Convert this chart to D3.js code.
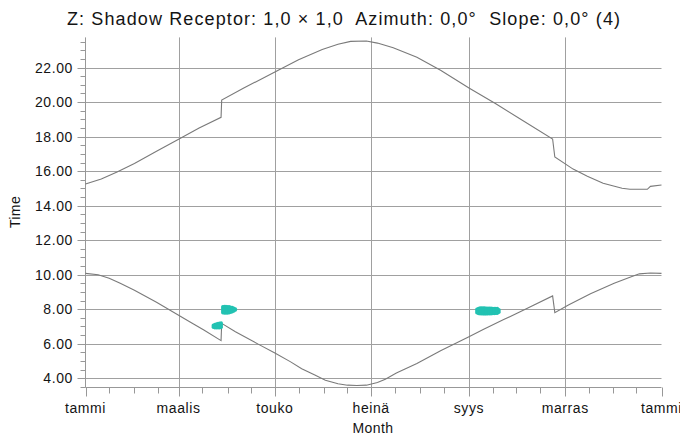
<!DOCTYPE html>
<html>
<head>
<meta charset="utf-8">
<script src="https://cdn.jsdelivr.net/npm/d3@7"></script>
<style>
  html, body { margin: 0; padding: 0; background: #fff; }
  svg { display: block; }
  text { font-family: "Liberation Sans", Arial, sans-serif; fill: #141414; }
</style>
</head>
<body>
<svg id="chart" width="680" height="439"></svg>
<script>
// ---- data ----
const titleText = "Z: Shadow Receptor: 1,0 × 1,0  Azimuth: 0,0°  Slope: 0,0° (4)";
const monthLabels = ["tammi", "maalis", "touko", "heinä", "syys", "marras", "tammi"];
const yTickValues = [4, 6, 8, 10, 12, 14, 16, 18, 20, 22];

// sunset (upper curve): day of year, hour
const upperDays  = [0, 10, 20, 31, 45, 59, 72, 85.9, 86.3, 100, 120, 135, 150, 160, 168, 178, 185, 195, 210, 225, 243, 260, 275, 296, 297.4, 309, 318, 328, 340, 345, 356, 358, 365];
const upperTimes = [15.26, 15.55, 15.95, 16.45, 17.15, 17.85, 18.5, 19.12, 20.12, 20.8, 21.75, 22.45, 23.05, 23.35, 23.52, 23.54, 23.42, 23.15, 22.6, 21.85, 20.82, 19.9, 19.05, 17.86, 16.82, 16.12, 15.7, 15.3, 15.01, 14.95, 14.95, 15.12, 15.2];

// sunrise (lower curve): day of year, hour
const lowerDays  = [0, 8, 15, 22, 31, 45, 59, 66, 75, 85.9, 86.3, 95, 110, 120, 130, 137, 145, 152, 160, 166, 172, 178, 185, 190, 197, 210, 225, 243, 252, 265, 280, 296, 297.4, 306, 320, 335, 345, 351, 358, 365];
const lowerTimes = [10.08, 10.0, 9.8, 9.5, 9.1, 8.4, 7.65, 7.28, 6.8, 6.18, 7.18, 6.7, 5.95, 5.47, 4.95, 4.55, 4.2, 3.88, 3.68, 3.6, 3.58, 3.6, 3.75, 3.95, 4.3, 4.85, 5.6, 6.4, 6.82, 7.4, 8.05, 8.77, 7.8, 8.25, 8.9, 9.5, 9.85, 10.05, 10.1, 10.08];

// shadow flicker periods: day of year, start hour, end hour
const flickerDays   = [81, 82, 83, 84, 85, 86, 87, 88, 89, 90, 91, 92, 93, 94, 95, 248, 249, 250, 251, 252, 253, 254, 255, 256, 257, 258, 259, 260, 261, 262];
const flickerStarts = [6.95, 6.93, 6.93, 6.93, 6.93, 6.95, 7.8, 7.78, 7.78, 7.78, 7.8, 7.82, 7.85, 7.9, 7.95, 7.8, 7.75, 7.74, 7.74, 7.73, 7.73, 7.73, 7.74, 7.74, 7.74, 7.75, 7.75, 7.76, 7.77, 7.82];
const flickerEnds   = [7.08, 7.12, 7.15, 7.17, 7.19, 7.2, 8.15, 8.16, 8.16, 8.15, 8.14, 8.12, 8.1, 8.06, 8.02, 8.0, 8.05, 8.07, 8.07, 8.07, 8.07, 8.06, 8.06, 8.06, 8.06, 8.05, 8.05, 8.04, 8.04, 7.98];

// ---- setup ----
const svg = d3.select("#chart");
const year0 = new Date(2011, 0, 1);
const toDate = d => new Date(year0.getTime() + d * 86400000);

const x = d3.scaleTime()
  .domain([new Date(2011, 0, 1), new Date(2012, 0, 1)])
  .range([85.5, 661.5]);
const y = d3.scaleLinear().domain([3.5, 23.75]).range([386.9, 37.4]);

const gridColor = "#a0a0a0";
const axisColor = "#989898";
const crisp = v => Math.round(v) + 0.5;

const majorDates = d3.range(0, 7).map(i => new Date(2011, i * 2, 1));
const minorDates = [];
for (let m = 0; m < 12; m++) {
  if (m % 2 === 1) minorDates.push(new Date(2011, m, 1));
  minorDates.push(new Date(2011, m, 16));
}
const yMinor = d3.range(3.5, 23.75, 0.5).filter(v => !yTickValues.includes(v));

const plotLeft = crisp(x.range()[0]) - 1;
const plotRight = x.range()[1];
const plotBottom = crisp(y(3.5));
const plotTop = y.range()[1];

// horizontal grid
svg.append("g").selectAll("line").data(yTickValues).join("line")
  .attr("x1", plotLeft).attr("x2", plotRight)
  .attr("y1", d => crisp(y(d))).attr("y2", d => crisp(y(d)))
  .attr("stroke", gridColor).attr("stroke-width", 1);

// vertical grid (interior majors)
svg.append("g").selectAll("line").data(majorDates.slice(1, -1)).join("line")
  .attr("x1", d => crisp(x(d))).attr("x2", d => crisp(x(d)))
  .attr("y1", plotTop).attr("y2", plotBottom)
  .attr("stroke", gridColor).attr("stroke-width", 1);

// axes lines
svg.append("line").attr("x1", plotLeft).attr("x2", plotLeft).attr("y1", plotTop).attr("y2", plotBottom)
  .attr("stroke", axisColor);
svg.append("line").attr("x1", plotLeft).attr("x2", plotRight).attr("y1", plotBottom).attr("y2", plotBottom)
  .attr("stroke", axisColor);

// y ticks
svg.append("g").selectAll("line").data(yTickValues).join("line")
  .attr("x1", plotLeft - 8).attr("x2", plotLeft)
  .attr("y1", d => crisp(y(d))).attr("y2", d => crisp(y(d)))
  .attr("stroke", axisColor);
svg.append("g").selectAll("line").data(yMinor).join("line")
  .attr("x1", plotLeft - 5).attr("x2", plotLeft)
  .attr("y1", d => crisp(y(d))).attr("y2", d => crisp(y(d)))
  .attr("stroke", axisColor);
svg.append("g").selectAll("text").data(yTickValues).join("text")
  .attr("x", 73).attr("y", d => y(d)).attr("dy", "0.36em")
  .attr("text-anchor", "end").attr("font-size", 14).attr("letter-spacing", "0.6px")
  .text(d => d3.format(".2f")(d));

// x ticks
svg.append("g").selectAll("line").data(majorDates).join("line")
  .attr("x1", d => crisp(x(d))).attr("x2", d => crisp(x(d)))
  .attr("y1", plotBottom).attr("y2", plotBottom + 9)
  .attr("stroke", axisColor);
svg.append("g").selectAll("line").data(minorDates).join("line")
  .attr("x1", d => crisp(x(d))).attr("x2", d => crisp(x(d)))
  .attr("y1", plotBottom).attr("y2", plotBottom + 6)
  .attr("stroke", axisColor);
svg.append("g").selectAll("text").data(majorDates).join("text")
  .attr("x", d => x(d)).attr("y", 413)
  .attr("text-anchor", "middle").attr("font-size", 14).attr("letter-spacing", "0.6px")
  .text((d, i) => monthLabels[i]);

// curves
const line = d3.line().x(d => x(toDate(d[0]))).y(d => y(d[1]));
svg.append("path").datum(upperDays.map((d, i) => [d, upperTimes[i]]))
  .attr("d", line).attr("fill", "none").attr("stroke", "#7a7a7a").attr("stroke-width", 1.1);
svg.append("path").datum(lowerDays.map((d, i) => [d, lowerTimes[i]]))
  .attr("d", line).attr("fill", "none").attr("stroke", "#7a7a7a").attr("stroke-width", 1.1);

// shadow flicker
svg.append("g").selectAll("line").data(flickerDays.map((d, i) => [d, flickerStarts[i], flickerEnds[i]])).join("line")
  .attr("x1", d => x(toDate(d[0]))).attr("x2", d => x(toDate(d[0])))
  .attr("y1", d => y(d[1])).attr("y2", d => y(d[2]))
  .attr("stroke", "#22c2b2").attr("stroke-width", 3.4).attr("stroke-linecap", "round");

// titles
svg.append("text").attr("x", 67).attr("y", 25)
  .attr("font-size", 18).style("white-space", "pre")
  .attr("textLength", 553).attr("lengthAdjust", "spacing")
  .text(titleText);
svg.append("text").attr("transform", "translate(20,212) rotate(-90)")
  .attr("text-anchor", "middle").attr("font-size", 14).attr("letter-spacing", "0.4px").text("Time");
svg.append("text").attr("x", 373).attr("y", 433).attr("text-anchor", "middle")
  .attr("font-size", 14).attr("letter-spacing", "0.4px").text("Month");
</script>
</body>
</html>
